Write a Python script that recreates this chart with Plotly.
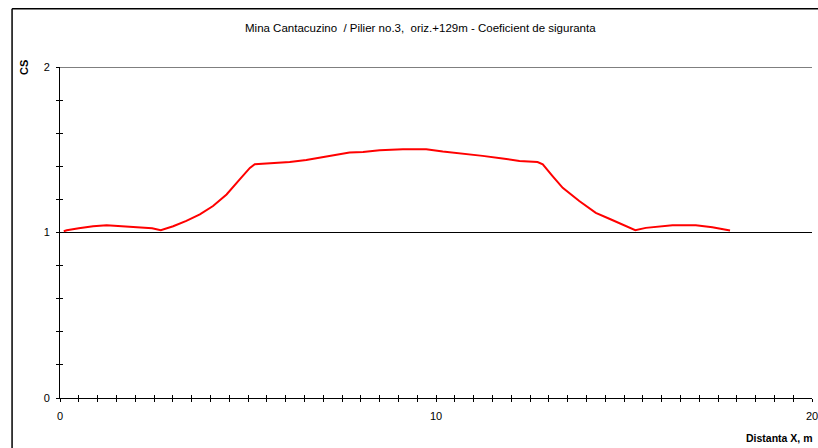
import plotly.graph_objects as go

# Safety coefficient profile across the pillar
distance_x = [0.10, 0.18, 0.50, 0.88, 1.24, 1.59, 2.12, 2.45, 2.68, 3.01, 3.36, 3.72,
              4.07, 4.43, 4.78, 5.05, 5.18, 5.67, 6.11, 6.55, 6.99, 7.44, 7.70, 8.06,
              8.50, 9.12, 9.74, 10.18, 10.71, 11.24, 11.77, 12.22, 12.70, 12.84, 13.10,
              13.37, 13.81, 14.25, 14.61, 14.95, 15.30, 15.58, 16.29, 16.91, 17.35, 17.82]
cs_values = [1.008, 1.014, 1.026, 1.038, 1.044, 1.040, 1.034, 1.026, 1.014, 1.038, 1.070, 1.109,
             1.160, 1.230, 1.321, 1.390, 1.412, 1.418, 1.426, 1.438, 1.456, 1.472, 1.483, 1.487,
             1.497, 1.503, 1.503, 1.489, 1.477, 1.463, 1.447, 1.432, 1.426, 1.412, 1.341,
             1.270, 1.190, 1.119, 1.083, 1.050, 1.014, 1.028, 1.044, 1.044, 1.032, 1.012]

x_major = [0, 10, 20]
y_major = [0, 1, 2]
x_minor_step = 0.5
y_minor_step = 0.2

title_text = "Mina Cantacuzino  / Pilier no.3,  oriz.+129m - Coeficient de siguranta"
x_title = "Distanta X, m"
y_title = "CS"

FONT = "Liberation Sans, Arial, sans-serif"

fig = go.Figure()
fig.add_trace(go.Scatter(x=distance_x, y=cs_values, mode="lines",
                         line=dict(color="#ff0000", width=2), hoverinfo="skip",
                         showlegend=False))
# overlay axes carry the inward half of the crossing tick marks
fig.add_trace(go.Scatter(x=distance_x, y=cs_values, mode="lines", xaxis="x2", yaxis="y2",
                         line=dict(color="rgba(0,0,0,0)", width=0), hoverinfo="skip",
                         showlegend=False))

n_x = int(round(20 / x_minor_step))
n_y = int(round(2 / y_minor_step))
x_minor_vals = [i * x_minor_step for i in range(n_x + 1)]
y_minor_vals = [round(i * y_minor_step, 2) for i in range(n_y + 1)]


def label(v, majors):
    return str(int(round(v))) if any(abs(v - m) < 1e-9 for m in majors) else ""


common_axis = dict(showline=True, linecolor="black", linewidth=1, zeroline=False,
                   ticklen=3, tickcolor="black", tickwidth=1)

fig.update_layout(
    width=818, height=448,
    margin=dict(l=60, r=0, t=67, b=50),
    paper_bgcolor="white", plot_bgcolor="white",
    font=dict(family=FONT, size=11, color="black"),
    xaxis=dict(range=[0, 20], tickvals=x_minor_vals,
               ticktext=[label(v, x_major) for v in x_minor_vals],
               ticks="outside", showgrid=False, ticklabeloverflow="allow",
               ticklabelstandoff=5, **common_axis),
    yaxis=dict(range=[0, 2], tickvals=y_minor_vals,
               ticktext=[label(v, y_major) for v in y_minor_vals],
               ticks="outside", showgrid=False, ticklabelstandoff=4, **common_axis),
    xaxis2=dict(range=[0, 20], overlaying="x", anchor="y2", tickvals=x_minor_vals,
                ticks="inside", showticklabels=False, showgrid=False, **common_axis),
    yaxis2=dict(range=[0, 2], overlaying="y", anchor="x2", side="left", tickvals=y_minor_vals,
                ticks="inside", showticklabels=False, showgrid=False, **common_axis),
    showlegend=False,
)

# horizontal grid at the integer levels
for yv in y_major[1:]:
    fig.add_shape(type="line", xref="x", yref="y", x0=0, x1=20, y0=yv, y1=yv,
                  line=dict(color="black", width=1), layer="below")

# outer chart frame (left and top edges; the others fall outside the page)
fx = (12 - 60) / 753
fy = (398 - 10) / 330
fig.add_shape(type="line", xref="paper", yref="paper", x0=fx, x1=fx, y0=-0.3, y1=fy,
              line=dict(color="black", width=1.5))
fig.add_shape(type="line", xref="paper", yref="paper", x0=fx, x1=1.1, y0=fy, y1=fy,
              line=dict(color="black", width=1.5))

fig.add_annotation(text=title_text, xref="paper", yref="paper",
                   x=(421 - 60) / 753, y=(398 - 29) / 330, showarrow=False,
                   xanchor="center", yanchor="middle", font=dict(size=11.5))
fig.add_annotation(text="<b>" + y_title + "</b>", xref="paper", yref="paper",
                   x=(24 - 60) / 753, y=(398 - 69) / 330, showarrow=False, textangle=-90,
                   xanchor="center", yanchor="middle", font=dict(size=11))
fig.add_annotation(text="<b>" + x_title + "</b>", xref="paper", yref="paper",
                   x=(816 - 60) / 753, y=(398 - 438) / 330, showarrow=False,
                   xanchor="right", yanchor="middle", font=dict(size=10.5))

fig.write_html("out.html")
